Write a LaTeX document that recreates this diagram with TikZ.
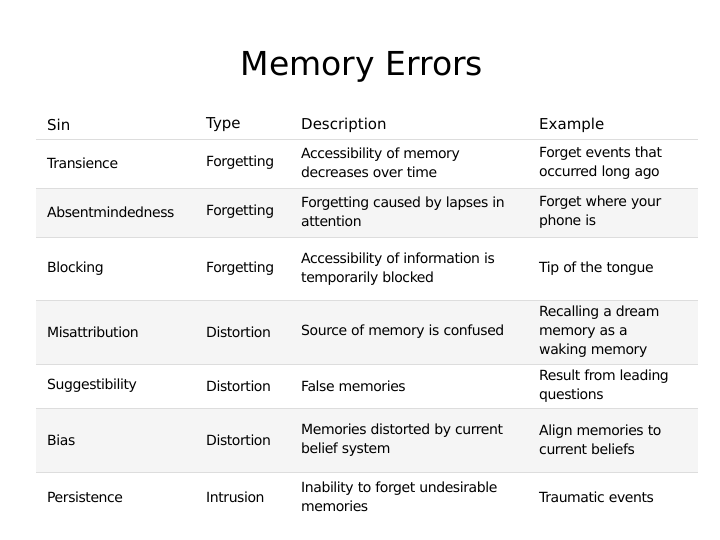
\documentclass[tikz,border=0pt]{standalone}
\usepackage{fontspec}
\setmainfont{DejaVu Sans}
\definecolor{rowbg}{HTML}{F5F5F5}
\definecolor{rule}{HTML}{DDDDDD}
\begin{document}
\begin{tikzpicture}[x=1pt,y=-1pt,
  cell/.style={anchor=west,inner sep=0pt,align=left,font=\fontsize{14}{19}\selectfont\addfontfeatures{LetterSpace=-3}},
  head/.style={anchor=west,inner sep=0pt,font=\fontsize{15}{18}\selectfont}]
\useasboundingbox (0,0) rectangle (720,540);
\fill[rowbg] (36,188) rectangle (698,237);
\fill[rowbg] (36,300) rectangle (698,364);
\fill[rowbg] (36,408) rectangle (698,472);
\foreach \y in {139,188,237,300,364,408,472} \draw[rule] (36,\y) -- (698,\y);
\node[font=\fontsize{33}{36}\selectfont] (title) at (362,67) {Memory Errors};
\node[head] (h1) at (47,125) {Sin};
\node[head] (h2) at (206,125) {Type};
\node[head] (h3) at (301,125) {Description};
\node[head] (h4) at (539,125) {Example};
\foreach \y/\a/\b/\c/\d [count=\i] in {
 163/Transience/Forgetting/{Accessibility of memory\\decreases over time}/{Forget events that\\occurred long ago},
 212/Absentmindedness/Forgetting/{Forgetting caused by lapses in\\attention}/{Forget where your\\phone is},
 269/Blocking/Forgetting/{Accessibility of information is\\temporarily blocked}/{Tip of the tongue},
 332/Misattribution/Distortion/{Source of memory is confused}/{Recalling a dream\\memory as a\\waking memory},
 386/Suggestibility/Distortion/{False memories}/{Result from leading\\questions},
 440/Bias/Distortion/{Memories distorted by current\\belief system}/{Align memories to\\current beliefs},
 497/Persistence/Intrusion/{Inability to forget undesirable\\memories}/{Traumatic events}} {
  \node[cell] (a\i) at (47,\y) {\a};
  \node[cell] (b\i) at (206,\y) {\b};
  \node[cell] (c\i) at (301,\y) {\c};
  \node[cell] (d\i) at (539,\y) {\d};
}
\end{tikzpicture}
\end{document}
